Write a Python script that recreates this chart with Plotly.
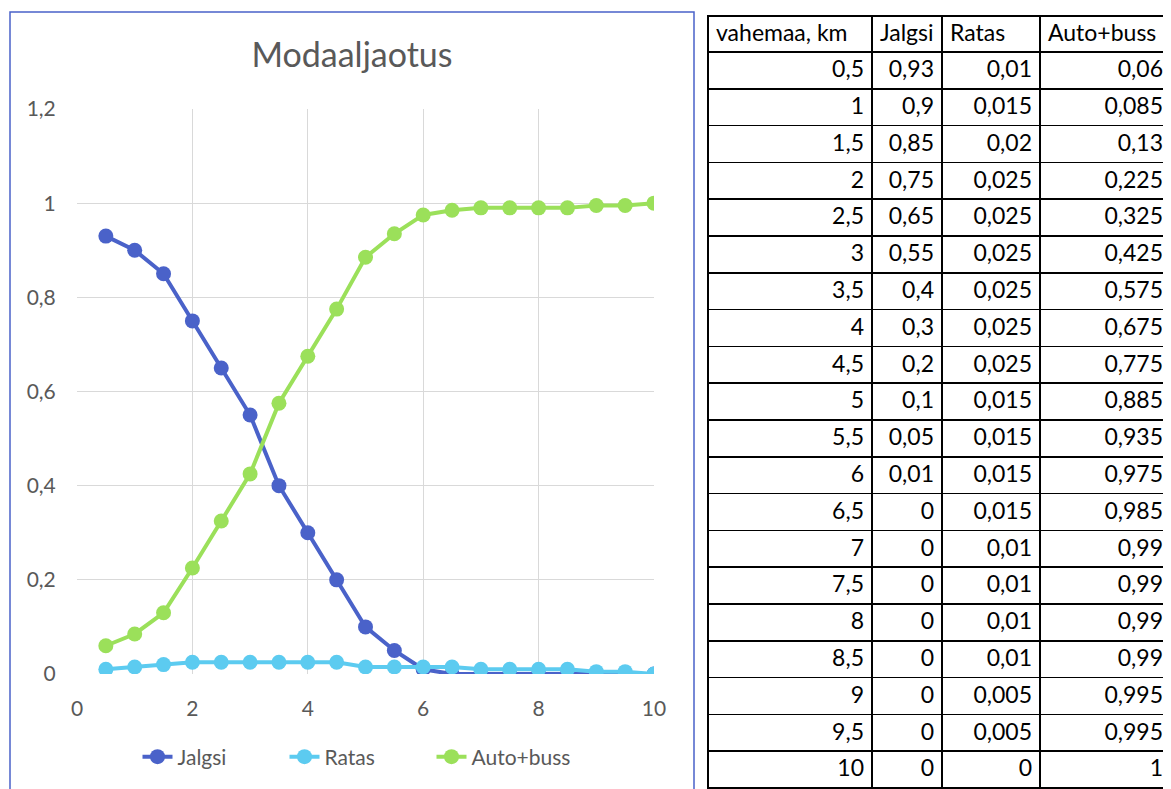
import plotly.graph_objects as go

# the page body adds an 8px margin, so the figure is drawn 8px in from the window corner
OFF = 8
W, H = 1171 - OFF, 789 - OFF

distance_km = [0.5, 1, 1.5, 2, 2.5, 3, 3.5, 4, 4.5, 5, 5.5, 6, 6.5, 7, 7.5, 8, 8.5, 9, 9.5, 10]
jalgsi = [0.93, 0.9, 0.85, 0.75, 0.65, 0.55, 0.4, 0.3, 0.2, 0.1, 0.05, 0.01, 0, 0, 0, 0, 0, 0, 0, 0]
ratas = [0.01, 0.015, 0.02, 0.025, 0.025, 0.025, 0.025, 0.025, 0.025, 0.015, 0.015, 0.015, 0.015,
         0.01, 0.01, 0.01, 0.01, 0.005, 0.005, 0]
auto_buss = [0.06, 0.085, 0.13, 0.225, 0.325, 0.425, 0.575, 0.675, 0.775, 0.885, 0.935, 0.975,
             0.985, 0.99, 0.99, 0.99, 0.99, 0.995, 0.995, 1]

headers = ["vahemaa, km", "Jalgsi", "Ratas", "Auto+buss"]
series = [("Jalgsi", jalgsi, "#4A62C9"), ("Ratas", ratas, "#5CCBF0"), ("Auto+buss", auto_buss, "#9BE05A")]


def px_x(v):
    return (v - OFF) / W


def px_y(v):
    return 1 - (v - OFF) / H


def fmt(v):
    return f"{v:g}".replace(".", ",")


fig = go.Figure()

for name, vals, col in series:
    fig.add_trace(go.Scatter(
        x=distance_km, y=vals, name=name, mode="lines+markers",
        line=dict(color=col, width=4),
        marker=dict(color=col, size=15),
    ))

fig.add_trace(go.Table(
    domain=dict(x=[px_x(708), 1.0], y=[0, px_y(16)]),
    columnwidth=[164, 70, 98, 131],
    header=dict(
        values=headers,
        align="left",
        height=36,
        font=dict(family="Lato", size=23, color="black"),
        fill_color="white",
        line=dict(color="black", width=1.5),
    ),
    cells=dict(
        values=[[fmt(v) for v in distance_km], [fmt(v) for v in jalgsi],
                [fmt(v) for v in ratas], [fmt(v) for v in auto_buss]],
        align="right",
        height=36.8,
        font=dict(family="Lato", size=23, color="black"),
        fill_color="white",
        line=dict(color="black", width=1.5),
    ),
))

fig.add_shape(type="rect", xref="paper", yref="paper",
              x0=px_x(10), x1=px_x(694), y0=-0.02, y1=px_y(12),
              line=dict(color="#4A62C9", width=1.5))

axis_common = dict(showgrid=True, gridcolor="#D9D9D9", gridwidth=1.2,
                   zeroline=False, showline=False, automargin=False,
                   ticks="outside", tickcolor="rgba(0,0,0,0)",
                   tickfont=dict(size=21, color="#595959"))

fig.update_layout(
    width=W, height=H,
    margin=dict(l=0, r=0, t=0, b=0, autoexpand=False),
    paper_bgcolor="white", plot_bgcolor="white",
    separators=", ",
    font=dict(family="Lato", color="#595959", size=19),
    title=dict(text="Modaaljaotus", x=px_x(352), xanchor="center",
               y=px_y(55), yanchor="middle",
               font=dict(size=34, color="#595959")),
    xaxis=dict(domain=[px_x(77), px_x(654)], range=[0, 10], dtick=2,
               ticklen=16, **axis_common),
    yaxis=dict(domain=[px_y(674), px_y(109)], range=[0, 1.2], dtick=0.2,
               ticklen=16, **axis_common),
    legend=dict(orientation="h", x=px_x(358), xanchor="center",
                y=px_y(757), yanchor="middle",
                font=dict(size=21, color="#595959"),
                entrywidth=102),
)

fig.write_html("out.html")
